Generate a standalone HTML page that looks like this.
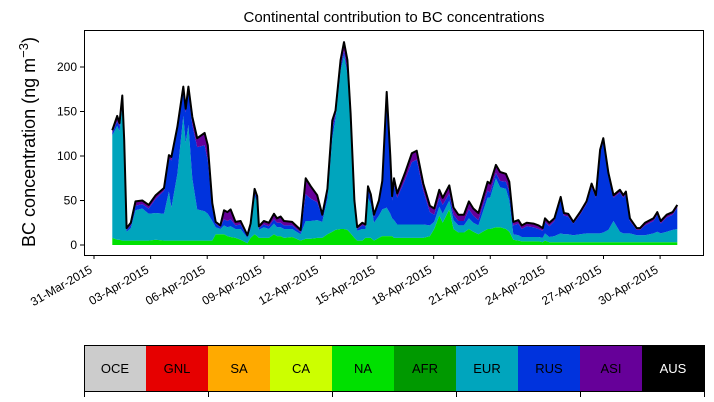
<!DOCTYPE html>
<html><head><meta charset="utf-8"><style>
body{margin:0;background:#fff;font-family:"Liberation Sans",sans-serif}
svg{display:block}
text{font-family:"Liberation Sans",sans-serif}
</style></head><body>
<svg id="c" width="714" height="402">
<text x="394" y="22" font-size="15" text-anchor="middle">Continental contribution to BC concentrations</text>
<text transform="translate(35,142) rotate(-90)" font-size="18" text-anchor="middle">BC concentration (ng m<tspan dy="-7" font-size="13">−3</tspan><tspan dy="7">)</tspan></text>
<g id="layers"></g>
<rect x="84.5" y="30.5" width="619" height="225" fill="none" stroke="#000"/>
<g id="axes"></g>
<g id="cbar"></g>
</svg>
<script>
const days=[0.97,1.23,1.35,1.5,1.6,1.73,1.95,2.2,2.56,2.9,3.27,3.71,3.97,4.1,4.42,4.73,4.86,5.0,5.21,5.47,5.86,6.03,6.27,6.45,6.7,6.89,7.07,7.24,7.5,7.77,8.13,8.3,8.51,8.65,8.74,9.0,9.27,9.54,9.7,9.89,10.07,10.5,10.95,11.22,11.49,11.83,12.1,12.37,12.63,12.8,13.07,13.25,13.43,13.6,13.8,13.95,14.22,14.38,14.52,14.67,14.84,15.1,15.28,15.51,15.7,15.8,15.9,16.07,16.48,16.84,17.1,17.45,17.8,18.03,18.3,18.48,18.83,19.05,19.31,19.6,19.87,20.1,20.37,20.86,20.99,21.3,21.52,21.83,22.01,22.22,22.49,22.67,22.93,23.29,23.56,23.78,23.9,24.13,24.4,24.73,24.9,25.13,25.4,25.76,26.1,26.37,26.6,26.82,26.99,27.26,27.53,27.87,28.05,28.19,28.4,28.76,28.94,29.2,29.65,29.85,30.03,30.35,30.67,30.91];
const total=[129,145,137,168,118,19,25,49,50,45,56,64,101,99,133,178,153,178,144,120,126,112,47,26,22,39,37,40,26,27,11,24,63,55,21,27,25,35,30,32,27,26,17,75,66,56,34,63,140,151,208,228,208,148,50,20,25,23,66,57,34,50,72,172,100,55,75,58,81,103,106,69,44,41,62,53,67,42,34,34,49,41,36,71,69,90,82,80,71,26,28,22,25,24,22,19,30,25,30,54,36,35,26,37,49,69,56,107,120,81,56,62,56,60,30,19,19,25,30,37,27,34,37,45];
const naVals=[8,6,6,5,5,5,5,5,5,5,6,5,5,5,5,5,5,5,5,5,5,5,5,12,12,12,10,9,8,6,2,8,12,10,8,8,8,12,10,10,8,9,5,7,7,8,8,12,15,17,18,18,17,13,8,5,5,8,8,8,5,8,10,10,10,10,8,8,8,8,8,8,10,18,33,25,40,18,14,14,18,15,12,18,18,20,20,18,15,6,5,4,4,4,4,3,5,3,3,3,3,3,3,3,3,3,3,3,3,3,3,3,3,3,3,3,3,3,3,3,3,3,3,3];
const eurVals=[115,128,122,150,105,10,14,34,36,30,30,30,55,37,75,140,110,130,70,35,33,30,22,8,6,10,10,12,10,12,6,10,43,38,9,12,10,12,10,10,10,9,7,20,20,20,18,40,105,125,178,195,175,122,35,11,13,10,45,38,20,25,30,32,25,20,20,15,15,15,15,15,12,8,10,10,10,10,8,8,12,10,10,35,35,55,45,45,35,6,6,5,5,5,5,5,8,6,7,10,9,9,8,9,10,10,10,10,11,14,24,12,10,10,10,8,8,8,10,12,10,12,14,15];
const rusVals=[3,5,5,6,5,2,3,5,5,6,16,26,37,53,50,28,34,38,60,70,74,60,14,4,2,7,7,8,4,5,2,3,4,4,2,3,3,5,5,5,4,4,2,30,25,20,6,8,10,5,5,5,5,5,4,2,4,3,9,8,6,14,28,125,60,20,40,30,50,70,73,38,15,8,10,10,8,6,5,5,10,8,6,8,6,6,7,8,10,10,13,9,12,11,9,8,13,12,17,38,21,20,13,22,33,52,40,90,102,60,26,44,40,44,14,6,6,11,14,19,11,16,17,24];
const yTicks=[0,50,100,150,200];
const xTickDays=[0,3,6,9,12,15,18,21,24,27,30];
const xTickLabels=["31-Mar-2015","03-Apr-2015","06-Apr-2015","09-Apr-2015","12-Apr-2015","15-Apr-2015","18-Apr-2015","21-Apr-2015","24-Apr-2015","27-Apr-2015","30-Apr-2015"];
const regions=["OCE","GNL","SA","CA","NA","AFR","EUR","RUS","ASI","AUS"];
const regionColors=["#cccccc","#e60000","#ffaa00","#ccff00","#00e000","#009900","#00a5bd","#0033dd","#660099","#000000"];

const NS="http://www.w3.org/2000/svg";
const X=d=>94+d*18.87, Y=v=>245-v*0.89;
function mk(tag,attrs,parent){const e=document.createElementNS(NS,tag);for(const k in attrs)e.setAttribute(k,attrs[k]);parent.appendChild(e);return e;}
const asiVals=total.map((t,i)=>Math.max(0,t-naVals[i]-eurVals[i]-rusVals[i]));
const series=[["na-area",naVals,"#00e000"],["eur-area",eurVals,"#00a5bd"],["rus-area",rusVals,"#0033dd"],["asi-area",asiVals,"#660099"]];
const L=document.getElementById('layers');
let base=days.map(()=>0);
series.forEach(([name,vals,col])=>{
  const top=base.map((b,i)=>b+vals[i]);
  let pts=days.map((d,i)=>X(d).toFixed(1)+","+Y(top[i]).toFixed(1));
  for(let i=days.length-1;i>=0;i--)pts.push(X(days[i]).toFixed(1)+","+Y(base[i]).toFixed(1));
  const p=mk('polygon',{points:pts.join(' '),fill:col},L);
  
  
  base=top;
});
const tl=mk('polyline',{points:days.map((d,i)=>X(d).toFixed(1)+","+Y(total[i]).toFixed(1)).join(' '),fill:'none',stroke:'#000','stroke-width':2,'stroke-linejoin':'round'},L);



const A=document.getElementById('axes');
yTicks.forEach(v=>{
  const y=Y(v);
  const ln=mk('line',{x1:80,x2:84,y1:y,y2:y,stroke:'#000'},A);
  
  
  const t=mk('text',{x:77,y:y+4,'font-size':12,'text-anchor':'end'},A);t.textContent=v;
  
  
});
xTickDays.forEach((d,i)=>{
  const x=X(d);
  const ln=mk('line',{x1:x,x2:x,y1:255,y2:259,stroke:'#000'},A);
  
  
  const ax=x-1, ay=272;
  const t=mk('text',{x:ax,y:ay,'font-size':12,'text-anchor':'end',transform:`rotate(-30 ${ax} ${ay})`},A);t.textContent=xTickLabels[i];
  
  
});

const C=document.getElementById('cbar');
const w=62;
regions.forEach((r,i)=>{
  const x=84+i*w;
  const rc=mk('rect',{x:x,y:345,width:w,height:47,fill:regionColors[i]},C);
  
  
  const t=mk('text',{x:x+w/2,y:373,'font-size':13,'text-anchor':'middle',fill:r==="AUS"?"#fff":"#000"},C);t.textContent=r;
  
  
});
const fr=mk('rect',{x:84.5,y:345.5,width:620,height:46,fill:'none',stroke:'#000'},C);


for(let k=0;k<=5;k++){
  const x=84.5+k*124;
  const ln=mk('line',{x1:x,x2:x,y1:392,y2:397,stroke:'#000'},C);
  
  
}
</script>
</body></html>
